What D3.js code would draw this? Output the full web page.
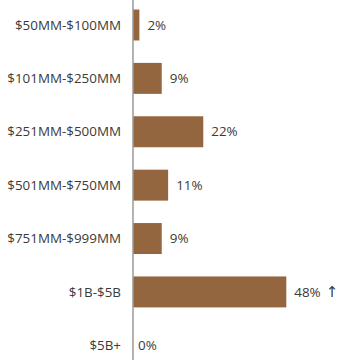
<!DOCTYPE html>
<html>
<head>
<meta charset="utf-8">
<script src="https://cdn.jsdelivr.net/npm/d3@7"></script>
<style>
  html, body { margin: 0; padding: 0; background: #fff; }
  svg { display: block; }
  text { font-family: "Open Sans", sans-serif; font-size: 13.4px; fill: #3a3a3a; }
  tspan.arrow { font-family: "DejaVu Sans", sans-serif; font-size: 15px; }
</style>
</head>
<body>
<svg id="chart" width="340" height="360"></svg>
<script>
// Revenue bands and their share of respondents (%)
const categories = ["$50MM-$100MM", "$101MM-$250MM", "$251MM-$500MM", "$501MM-$750MM", "$751MM-$999MM", "$1B-$5B", "$5B+"];
const shares = [2, 9, 22, 11, 9, 48, 0];
const suffixes = ["", "", "", "", "", "\u2191", ""];

const svg = d3.select("#chart");
const width = 340, height = 360;
const axisX = 133;

const x = d3.scaleLinear().domain([0, 48]).range([axisX, 286.3]);
const y = d3.scaleBand().domain(categories).range([-1.7, 372]).paddingInner(0.42).paddingOuter(0.21);

// bars
svg.selectAll("rect.bar")
  .data(categories)
  .join("rect")
  .attr("class", "bar")
  .attr("x", x(0))
  .attr("y", d => y(d))
  .attr("width", (d, i) => x(shares[i]) - x(0))
  .attr("height", y.bandwidth())
  .attr("fill", "#94663F");

// category labels
svg.selectAll("text.cat")
  .data(categories)
  .join("text")
  .attr("class", "cat")
  .attr("x", axisX - 12)
  .attr("y", d => y(d) + y.bandwidth() / 2)
  .attr("dy", "0.35em")
  .attr("text-anchor", "end")
  .text(d => d);

// value labels, with an optional trend arrow
const vals = svg.selectAll("text.val")
  .data(categories)
  .join("text")
  .attr("class", "val")
  .attr("x", (d, i) => x(shares[i]) + (shares[i] === 0 ? 5 : 8))
  .attr("y", d => y(d) + y.bandwidth() / 2)
  .attr("dy", "0.35em");
vals.append("tspan").text((d, i) => shares[i] + "%");
vals.filter((d, i) => suffixes[i] !== "")
  .append("tspan")
  .attr("class", "arrow")
  .attr("dx", 5)
  .text(d => suffixes[categories.indexOf(d)]);

// vertical baseline
svg.append("line")
  .attr("x1", axisX).attr("x2", axisX)
  .attr("y1", 0).attr("y2", height)
  .attr("stroke", "#9a9a9a")
  .attr("stroke-width", 1.5);
</script>
</body>
</html>
